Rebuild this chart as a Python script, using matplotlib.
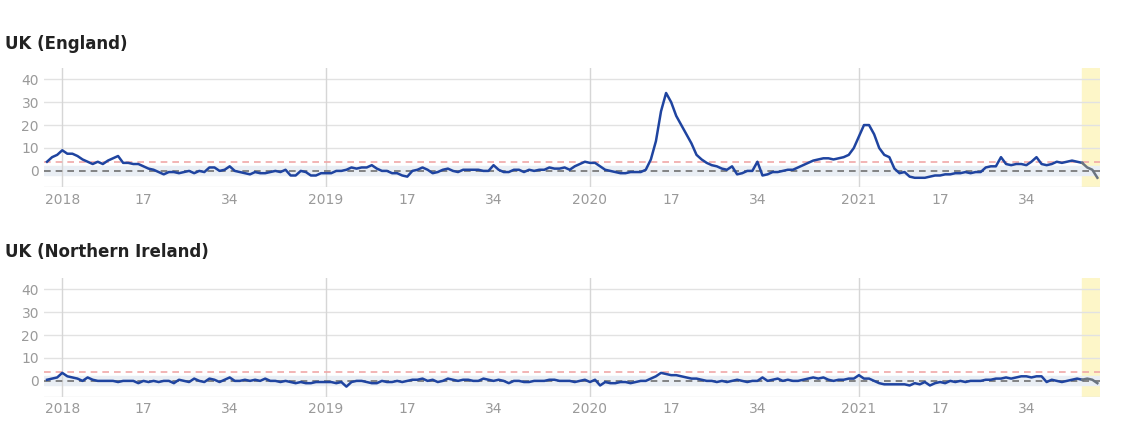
"""Weekly excess mortality z-scores, England and Northern Ireland"""
import numpy as np
import matplotlib
matplotlib.use("Agg")
import matplotlib.pyplot as plt

# week index 0 = 2018 week 1; series start three weeks earlier
tick_pos = [0, 16, 33, 52, 68, 85, 104, 120, 137, 157, 173, 190]
tick_labels = ["2018", "17", "34", "2019", "17", "34", "2020", "17", "34", "2021", "17", "34"]
provisional_from = 201  # 2021 week 45 onwards is provisional

england = (
    [4, 6, 7]
    + [9, 7.5, 7.5, 6.5, 5, 4, 3, 4, 3, 4.5, 5.5, 6.5, 3.5, 3.5, 3, 3, 2, 1, .5, -.5,
       -1.5, -.5, -.5, -1, -.5, 0, -1, 0, -.5, 1.5, 1.5, 0, .5, 2, 0, -.5, -1, -1.5, -.5, -1,
       -1, -.5, 0, -.5, .5, -2, -2, 0, -.5, -2, -2, -1]
    + [-1, -1, 0, 0, .5, 1.5, 1, 1.5, 1.5, 2.5, 1, 0, 0, -1, -1, -2, -2.5, 0, .5, 1.5,
       .5, -1, -.5, .5, 1, 0, -.5, .5, .5, .5, .5, 0, 0, 2.5, .5, -.5, -.5, .5, .5, -.5,
       .5, 0, .5, .5, 1.5, 1, 1, 1.5, .5, 2, 3, 4]
    + [3.5, 3.5, 2, .5, 0, -.5, -1, -1, -.5, -.5, -.5, .5, 5, 13, 26, 34, 30, 24, 20, 16,
       12, 7, 5, 3.5, 2.5, 2, 1, .5, 2, -1.5, -1, 0, 0, 4, -2, -1.5, -.5, -.5, 0, .5,
       .5, 1.5, 2.5, 3.5, 4.5, 5, 5.5, 5.5, 5, 5.5, 6, 7, 10]
    + [15, 20, 20, 16, 10, 7, 6, 1, -1, -.5, -2.5, -3, -3, -3, -2.5, -2, -2, -1.5, -1.5, -1,
       -1, -.5, -1, -.5, -.5, 1.5, 2, 2, 6, 3, 2.5, 3, 3, 2.5, 4, 6, 3, 2.5, 3, 4,
       3.5, 4, 4.5, 4, 3.5, 1.5, .5, -3]
)

northern_ireland = (
    [.5, 1, 1.5]
    + [3.5, 2, 1.5, 1, 0, 1.5, .5, 0, 0, 0, 0, -.5, 0, 0, 0, -1, 0, -.5, 0, -.5,
       0, 0, -1, .5, 0, -.5, 1, 0, -.5, 1, .5, -.5, .5, 1.5, 0, 0, .5, 0, .5, 0,
       1, 0, 0, -.5, 0, -.5, -1, -.5, -1, -1, -.5, -.5]
    + [-.5, -.5, -1, -.5, -2.5, -.5, 0, 0, -.5, -1, -1, 0, -.5, -.5, 0, -.5, 0, .5, .5, 1,
       0, .5, -.5, 0, 1, .5, 0, .5, .5, 0, 0, 1, .5, 0, .5, 0, -1, 0, 0, -.5,
       -.5, 0, 0, 0, .5, .5, 0, 0, 0, -.5, 0, .5]
    + [-.5, .5, -2, -.5, -1, -1, -.5, -.5, -1, -.5, 0, 0, 1, 2, 3.5, 3, 2.5, 2.5, 2, 1.5,
       1, 1, .5, 0, 0, -.5, 0, -.5, 0, .5, 0, -.5, 0, 0, 1.5, 0, .5, 1, 0, .5,
       0, 0, .5, 1, 1.5, 1, 1.5, .5, 0, .5, .5, 1, 1]
    + [2.5, 1, 1, 0, -1, -1.5, -1.5, -1.5, -1.5, -1.5, -2, -1, -1.5, -.5, -2, -1, -.5, -1, 0, -.5,
       0, -.5, 0, 0, 0, .5, .5, 1, 1, 1.5, 1, 1.5, 2, 2, 1.5, 2, 2, -.5, .5, 0,
       -.5, 0, .5, 1, .5, 1, .5, -1]
)

panels = [("UK (England)", england), ("UK (Northern Ireland)", northern_ireland)]

fig = plt.figure(figsize=(11.41, 4.43), dpi=100)
axes_rects = [[0.039, 0.578, 0.925, 0.269], [0.039, 0.104, 0.925, 0.269]]
title_y = [0.89, 0.42]

for (title, vals), rect, ty in zip(panels, axes_rects, title_y):
    ax = fig.add_axes(rect)
    vals = np.array(vals, dtype=float)
    x = np.arange(len(vals)) - 3
    xmax = x[-1] + 0.5

    ax.axvspan(provisional_from, xmax, color="#fdf6c8", zorder=0)
    ax.axhspan(-2, 2, color="#e9eef4", zorder=0.5)
    for yv in [10, 20, 30, 40]:
        ax.axhline(yv, color="#e2e2e2", lw=1, zorder=0.6)
    ax.axhline(-7, color="#e2e2e2", lw=1, zorder=0.6)
    for xv in [0, 52, 104, 157]:
        ax.axvline(xv, color="#d6d6d6", lw=1, zorder=0.6)
    ax.axhline(4, color="#f0a8a8", lw=1.2, ls=(0, (4, 3)), zorder=1)
    ax.axhline(0, color="#707070", lw=1.2, ls=(0, (4, 3)), zorder=1)

    m = x <= provisional_from
    ax.plot(x[m], vals[m], color="#1f44a0", lw=1.8, zorder=3)
    ax.plot(x[~m | (x == provisional_from)], vals[~m | (x == provisional_from)],
            color="#6a7480", lw=1.8, zorder=3)

    ax.set_xlim(-3.5, xmax)
    ax.set_ylim(-7, 45)
    ax.set_yticks([0, 10, 20, 30, 40])
    ax.set_xticks(tick_pos)
    ax.set_xticklabels(tick_labels)
    ax.tick_params(colors="#9a9a9a", labelsize=10, length=0, pad=4)
    for s in ax.spines.values():
        s.set_visible(False)
    fig.text(0.004, ty, title, fontsize=12, fontweight="bold", color="#222222")

plt.savefig("out.png", dpi=100)
